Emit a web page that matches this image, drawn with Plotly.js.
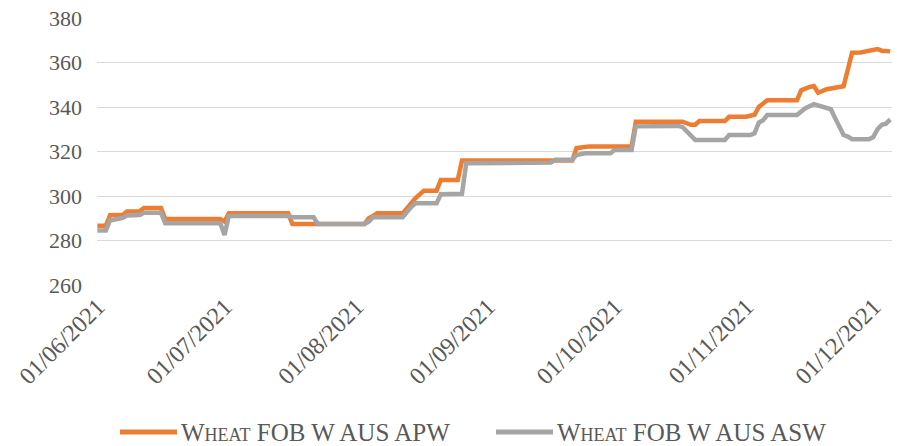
<!DOCTYPE html>
<html>
<head>
<meta charset="utf-8">
<script src="https://cdn.plot.ly/plotly-3.0.1.min.js"></script>
<style>
  html, body { margin: 0; padding: 0; background: #ffffff; }
  #chart { width: 897px; height: 446px; }
</style>
</head>
<body>
<div id="chart"></div>
<script>
// ---- Data ----
const seriesNames = ['Wheat FOB W AUS APW', 'Wheat FOB W AUS ASW'];
const seriesColors = ['#ED7D31', '#A5A5A5'];

const apwDates = [
  '2021-05-30','2021-06-01','2021-06-02','2021-06-05','2021-06-06','2021-06-09','2021-06-10','2021-06-14',
  '2021-06-15','2021-06-28','2021-06-29','2021-06-30','2021-07-14','2021-07-15','2021-08-01','2021-08-02',
  '2021-08-03','2021-08-04','2021-08-10','2021-08-13','2021-08-15','2021-08-18','2021-08-19','2021-08-23',
  '2021-08-24','2021-09-19','2021-09-20','2021-09-23','2021-10-03','2021-10-04','2021-10-15','2021-10-17',
  '2021-10-18','2021-10-19','2021-10-25','2021-10-26','2021-10-30','2021-10-31','2021-11-01','2021-11-02',
  '2021-11-03','2021-11-04','2021-11-11','2021-11-12','2021-11-14','2021-11-15','2021-11-16','2021-11-17',
  '2021-11-18','2021-11-22','2021-11-23','2021-11-24','2021-11-26','2021-11-30','2021-12-01','2021-12-03'
];
const apwValues = [
  286.6,286.6,291.4,291.6,293.0,293.2,294.6,294.6,
  289.7,289.7,288.5,292.2,292.2,287.4,287.4,290.0,
  291.0,292.2,292.2,299.0,302.4,302.4,307.2,307.2,
  315.9,315.9,321.5,322.3,322.3,333.4,333.4,332.0,
  332.0,333.7,333.7,335.6,335.6,335.8,336.5,340.0,
  341.5,343.0,343.0,347.5,349.0,349.4,346.4,347.0,
  348.0,349.3,357.0,364.4,364.5,366.0,365.3,365.0
];

const aswDates = [
  '2021-05-30','2021-06-01','2021-06-02','2021-06-04','2021-06-05','2021-06-06','2021-06-09','2021-06-10',
  '2021-06-14','2021-06-15','2021-06-28','2021-06-29','2021-06-30','2021-07-14','2021-07-15','2021-07-20',
  '2021-07-21','2021-08-01','2021-08-02','2021-08-03','2021-08-10','2021-08-12','2021-08-13','2021-08-18',
  '2021-08-19','2021-08-24','2021-08-25','2021-09-14','2021-09-15','2021-09-19','2021-09-20','2021-09-22',
  '2021-09-28','2021-09-29','2021-10-03','2021-10-04','2021-10-14','2021-10-15','2021-10-16','2021-10-17',
  '2021-10-18','2021-10-25','2021-10-26','2021-10-31','2021-11-01','2021-11-02','2021-11-03','2021-11-04',
  '2021-11-11','2021-11-12','2021-11-13','2021-11-15','2021-11-17','2021-11-19','2021-11-20','2021-11-22',
  '2021-11-23','2021-11-24','2021-11-28','2021-11-29','2021-11-30','2021-12-01','2021-12-02','2021-12-03'
];
const aswValues = [
  284.5,284.5,289.0,289.7,290.2,291.2,291.5,292.5,
  292.5,287.8,287.8,282.5,291.0,291.0,290.5,290.5,
  287.4,287.4,288.5,290.4,290.4,295.0,296.7,296.7,
  300.8,301.0,314.7,315.0,316.3,316.3,318.4,319.2,
  319.2,320.7,320.7,331.3,331.5,331.0,329.0,327.0,
  325.2,325.2,327.4,327.4,328.2,333.0,334.0,336.4,
  336.4,338.0,339.5,341.3,340.4,339.0,335.0,327.4,
  326.7,325.5,325.5,326.5,330.0,332.0,332.5,334.4
];

const tickDates = ['2021-06-01','2021-07-01','2021-08-01','2021-09-01','2021-10-01','2021-11-01','2021-12-01'];
const tickLabels = ['01/06/2021','01/07/2021','01/08/2021','01/09/2021','01/10/2021','01/11/2021','01/12/2021'];
const yTicks = [260, 280, 300, 320, 340, 360, 380];

// ---- Chart ----
const FONT = '"Liberation Serif", "Times New Roman", serif';
const W = 897, H = 446, ML = 97, MR = 5, MT = 18, MB = 161;
const PW = W - ML - MR, PH = H - MT - MB;
const px2x = p => (p - ML) / PW;
const px2y = p => (H - MB - p) / PH;

const traces = [
  { x: apwDates, y: apwValues, name: seriesNames[0], type: 'scatter', mode: 'lines',
    line: { color: seriesColors[0], width: 4.5 } },
  { x: aswDates, y: aswValues, name: seriesNames[1], type: 'scatter', mode: 'lines',
    line: { color: seriesColors[1], width: 4.5 } }
];

// custom legend (line swatch + small-caps label)
const legendLeft = [120, 496];
const legendY = 432;
const shapes = legendLeft.map((l, i) => ({
  type: 'line', xref: 'paper', yref: 'paper',
  x0: px2x(l), x1: px2x(l + 57), y0: px2y(legendY), y1: px2y(legendY),
  line: { color: seriesColors[i], width: 5 }
}));
const annotations = legendLeft.map((l, i) => ({
  xref: 'paper', yref: 'paper', x: px2x(l + 59), y: px2y(legendY),
  xanchor: 'left', yanchor: 'middle', showarrow: false,
  text: seriesNames[i],
  font: { family: FONT, size: 25, color: '#595959', variant: 'small-caps' }
}));

const layout = {
  width: W, height: H,
  margin: { l: ML, r: MR, t: MT, b: MB },
  paper_bgcolor: '#ffffff', plot_bgcolor: '#ffffff',
  font: { family: FONT, color: '#595959', size: 22 },
  showlegend: false,
  shapes: shapes,
  annotations: annotations,
  xaxis: {
    type: 'date', automargin: false,
    range: ['2021-05-29 22:00', '2021-12-03 10:00'],
    tickmode: 'array', tickvals: tickDates, ticktext: tickLabels,
    tickangle: -45, showgrid: false, zeroline: false, showline: false, ticks: '',
    ticklabelshift: -8, ticklabelstandoff: 2,
    tickfont: { family: FONT, size: 24, color: '#595959' }
  },
  yaxis: {
    automargin: false,
    range: [260, 380], tickmode: 'array', tickvals: yTicks,
    showgrid: true, gridcolor: '#D9D9D9', gridwidth: 1,
    zeroline: false, showline: false, ticks: '',
    ticklabelstandoff: 14,
    tickfont: { family: FONT, size: 22, color: '#595959' }
  }
};

Plotly.newPlot('chart', traces, layout, { displayModeBar: false, staticPlot: true });
</script>
</body>
</html>
